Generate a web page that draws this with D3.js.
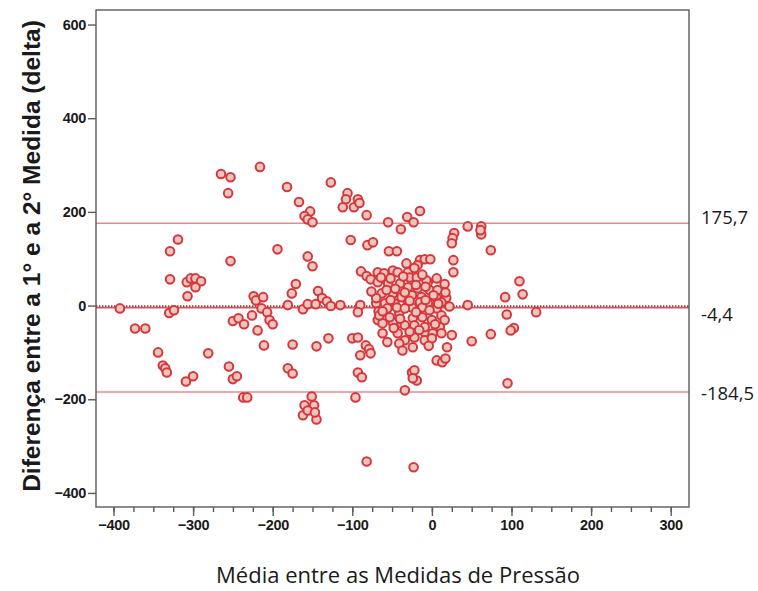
<!DOCTYPE html>
<html>
<head>
<meta charset="utf-8">
<script src="https://cdn.jsdelivr.net/npm/d3@7"></script>
<style>
  html, body { margin: 0; padding: 0; background: #ffffff; }
  svg { display: block; }
</style>
</head>
<body>
<svg id="chart" width="758" height="591"></svg>
<script>
// Média entre as duas medidas (eixo X) e diferença entre elas (eixo Y)
const mediaPressao = [
  -392, -373, -360, -344, -338, -335, -333, -329, -329, -330, -324, -319, -308, -303, -297, -290,
  -297, -307, -309, -300, -281, -265, -253, -256, -253, -250, -243, -236, -226, -255, -250, -245,
  -237, -232, -224, -221, -219, -216, -212, -214, -207, -204, -200, -211, -194, -182, -181, -171,
  -176, -175, -181, -175, -167, -153, -160, -156, -150, -156, -150, -162, -156, -146, -143, -138,
  -132, -127, -115, -145, -130, -151, -160, -148, -162, -156, -145, -147, -127, -106, -108, -93,
  -112, -98, -91, -82, -102, -81, -74, -90, -93, -89, -82, -77, -100, -93, -83, -79,
  -90, -77, -93, -88, -96, -82, -70, -67, -55, -39, -31, -23, -15, 45, 62, 62,
  61, 74, 28, 26, 25, 27, 27, -54, -44, -15, -9, -2, -32, -18, 110, 114,
  92, 94, 45, 131, 103, 99, 74, 50, 25, 19, 6, 13, 17, -25, -22, -19,
  -24, -34, 95, -23,
  // núcleo denso próximo de zero
  -68, -60, -49, -43, -30, -22, -28, -19, 6, -5, 16, -68, -55, -40, -30, -18,
  -3, 7, -63, -49, -38, -25, -13, 6, 18, -59, -47, -30, -15, -5, 12, 17,
  -7, -56, -41, -25, -12, 6, 22, -68, -49, -38, -24, -12, 0, 10, 12, -62,
  -43, -9, 1, -22, -34, -41, -37, -9, 0, -24, -53, -62, -34, -22, -9, -66,
  12, -44, 16, -3, -57,
  -64, -52, -36, -12, -46, -34, -20, -8, 2, -70, -52, -20, -8, -34, -62, -48,
  -28, -16, 4, -4, -56, -28, 8, -40, -76
];
const diferencaDelta = [
  -6, -49, -49, -100, -128, -134, -143, 116, 56, -16, -10, 141, 50, 58, 58, 52,
  39, 20, -162, -151, -102, 281, 274, 240, 95, -33, -27, -40, -21, -130, -157, -151,
  -196, -196, 20, 11, -53, 296, 18, -6, -14, -31, -40, -85, 120, 253, 1, 46,
  26, -83, -134, -145, 221, 201, 191, 184, 178, 105, 84, -8, 3, 3, 31, 16,
  9, -1, 1, -87, -70, -194, -213, -213, -234, -224, -243, -228, 263, 240, 227, 227,
  210, 210, 219, 193, 140, 129, 135, 1, -14, 73, 63, 56, -70, -68, -85, -93,
  -106, -102, -143, -153, -196, -333, 5, -12, 178, 163, 189, 178, 202, 169, 169, 152,
  161, 118, 155, 144, 133, 97, 71, 116, 116, 97, 99, 99, 90, 86, 52, 24,
  18, -19, 1, -14, -48, -53, -61, -76, -63, -89, -117, -121, -113, -143, -138, -160,
  -155, -181, -166, -345,
  71, 69, 75, 71, 71, 80, 60, 60, 58, 50, 46, 50, 47, 47, 39, 37,
  33, 33, 26, 26, 18, 22, 18, 16, 16, 5, 5, 7, 7, 5, 7, 28,
  54, -6, -16, -4, -4, -6, -2, -31, -36, -38, -27, -25, -31, -46, -59, -59,
  -59, -57, -59, -68, -74, -81, -96, -74, -70, -89, -25, -38, -42, -42, -46, -21,
  -21, -4, -31, -10, 33,
  60, 58, 62, 66, 36, 28, 44, 40, 22, 16, 12, -14, 12, -6, -12, -48,
  -56, -52, -40, -86, -78, 10, 4, -28, 30
];

// Limites de concordância e média das diferenças
const limiteValores = [175.7, -4.4, -184.5];
const limiteRotulos = ["175,7", "-4,4", "-184,5"];

const xTicks = [-400, -300, -200, -100, 0, 100, 200, 300];
const yTicks = [-400, -200, 0, 200, 400, 600];

const tituloX = "Média entre as Medidas de Pressão";
const tituloY = "Diferença entre a 1° e a 2° Medida (delta)";

const svg = d3.select("#chart");
const area = { left: 96, right: 689, top: 10, bottom: 507 };

const x = d3.scaleLinear().domain([-422, 323]).range([area.left, area.right]);
const y = d3.scaleLinear().domain([-430, 631]).range([area.bottom, area.top]);

const pontos = mediaPressao.map((m, i) => ({ m, d: diferencaDelta[i] }));

// Linhas de limite superior e inferior
const linhas = svg.append("g");
[limiteValores[0], limiteValores[2]].forEach(v => {
  linhas.append("line")
    .attr("x1", area.left).attr("x2", area.right)
    .attr("y1", y(v)).attr("y2", y(v))
    .attr("stroke", "#e48a8f").attr("stroke-width", 1.6);
});
// Linha da média (traço contínuo com pontilhado escuro)
linhas.append("line")
  .attr("x1", area.left).attr("x2", area.right)
  .attr("y1", y(limiteValores[1])).attr("y2", y(limiteValores[1]))
  .attr("stroke", "#d9535a").attr("stroke-width", 1.6);
linhas.append("line")
  .attr("x1", area.left).attr("x2", area.right)
  .attr("y1", y(limiteValores[1]) - 1.5).attr("y2", y(limiteValores[1]) - 1.5)
  .attr("stroke", "#8a4446").attr("stroke-width", 1.6)
  .attr("stroke-dasharray", "1.4,1.6");

// Pontos
svg.append("g").selectAll("circle")
  .data(pontos)
  .join("circle")
  .attr("cx", p => x(p.m))
  .attr("cy", p => y(p.d))
  .attr("r", 4.3)
  .attr("fill", "#ebc6bb")
  .attr("stroke", "#d8363e")
  .attr("stroke-width", 2);

// Moldura do gráfico
svg.append("rect")
  .attr("x", area.left).attr("y", area.top)
  .attr("width", area.right - area.left).attr("height", area.bottom - area.top)
  .attr("fill", "none").attr("stroke", "#5a5a5a").attr("stroke-width", 1.4);

// Eixo X com marcas menores a cada 25
const eixoX = svg.append("g").attr("transform", `translate(0,${area.bottom})`);
eixoX.call(d3.axisBottom(x).tickValues(d3.range(-400, 301, 25)).tickSize(5).tickFormat(""))
  .call(g => g.select(".domain").remove())
  .call(g => g.selectAll("line").attr("stroke", "#5a5a5a").attr("stroke-width", 1.4));
eixoX.append("g")
  .call(d3.axisBottom(x).tickValues(xTicks).tickSize(9).tickPadding(4).tickFormat(d3.format("d")))
  .call(g => g.select(".domain").remove())
  .call(g => g.selectAll("line").attr("stroke", "#5a5a5a").attr("stroke-width", 1.4))
  .call(g => g.selectAll("text")
    .attr("fill", "#1a1a1a")
    .style("font-family", "'Liberation Sans', Arial, sans-serif")
    .style("font-weight", "bold")
    .style("font-size", "14.5px")
    .style("letter-spacing", "-0.3px"));

// Eixo Y
svg.append("g").attr("transform", `translate(${area.left},0)`)
  .call(d3.axisLeft(y).tickValues(yTicks).tickSize(8).tickPadding(2).tickFormat(d3.format("d")))
  .call(g => g.select(".domain").remove())
  .call(g => g.selectAll("line").attr("stroke", "#5a5a5a").attr("stroke-width", 1.4))
  .call(g => g.selectAll("text")
    .attr("fill", "#1a1a1a")
    .style("font-family", "'Liberation Sans', Arial, sans-serif")
    .style("font-weight", "bold")
    .style("font-size", "14.5px")
    .style("letter-spacing", "-0.3px"));

// Rótulos dos limites à direita
const deslocamento = [-7, 6, 0];
svg.append("g").selectAll("text")
  .data(limiteValores)
  .join("text")
  .attr("x", 701)
  .attr("y", (v, i) => y(v) + deslocamento[i])
  .attr("dominant-baseline", "central")
  .attr("fill", "#1a1a1a")
  .style("font-family", "'Open Sans', sans-serif")
  .style("font-size", "18.5px")
  .text((v, i) => limiteRotulos[i]);

// Títulos dos eixos
svg.append("text")
  .attr("x", 398).attr("y", 574)
  .attr("text-anchor", "middle")
  .attr("dominant-baseline", "central")
  .attr("fill", "#1a1a1a")
  .style("font-family", "'Open Sans', sans-serif")
  .style("font-weight", "500")
  .style("font-size", "22px")
  .text(tituloX);

svg.append("text")
  .attr("transform", "translate(31,256) rotate(-90)")
  .attr("text-anchor", "middle")
  .attr("dominant-baseline", "central")
  .attr("fill", "#1a1a1a")
  .style("font-family", "'Liberation Sans', Arial, sans-serif")
  .style("font-weight", "bold")
  .style("font-size", "24.5px")
  .text(tituloY);
</script>
</body>
</html>
